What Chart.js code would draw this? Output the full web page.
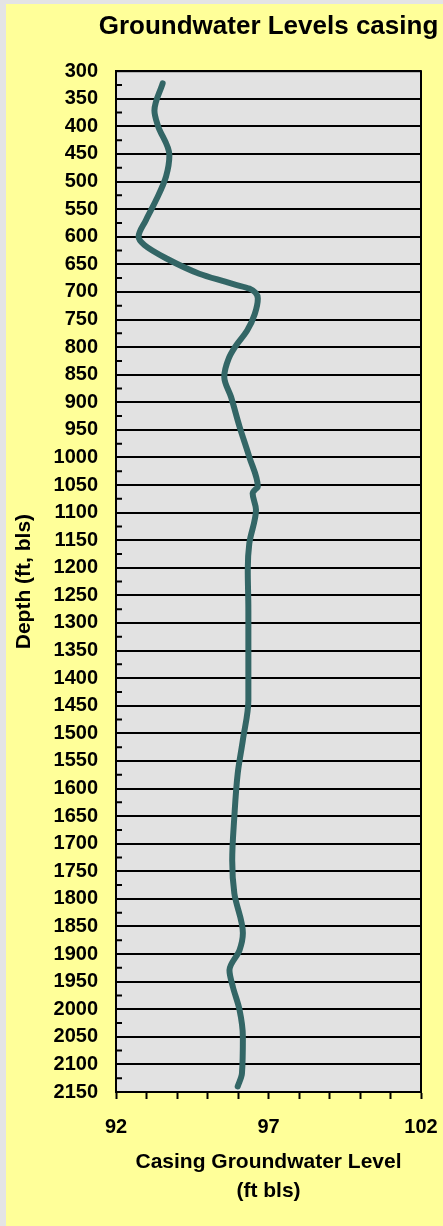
<!DOCTYPE html>
<html lang="en">
<head>
    <meta charset="UTF-8">
    <title>Groundwater Levels casing</title>
    <script src="https://cdn.jsdelivr.net/npm/chart.js@4.4.1/dist/chart.umd.min.js"></script>
    <style>
        html, body {
            margin: 0;
            padding: 0;
            overflow: hidden;
            background-color: #e4e4e4;
        }
        .chart-box {
            position: absolute;
            left: 6px;
            top: 4px;
            width: 525px;
            height: 1222px;
            background-color: #ffff99;
        }
    </style>
</head>
<body>
    <div class="chart-box">
        <canvas id="casingChart" width="525" height="1222"></canvas>
    </div>

    <script>
        // Depth of each reading (ft below land surface)
        const depths = [
            322, 371, 398, 452, 491, 534, 570, 600, 615, 639,
            667, 682, 686, 694, 712, 740, 770, 800, 820, 854,
            890, 944, 999, 1053, 1059, 1065, 1095, 1156, 1204, 1277,
            1440, 1512, 1573, 1651, 1730, 1790, 1862, 1893, 1929, 1959,
            2001, 2050, 2116, 2140
        ];

        // Casing groundwater level at each depth (ft bls)
        const casingLevels = [
            93.53, 93.26, 93.37, 93.75, 93.64, 93.31, 92.98, 92.74, 92.93, 93.64,
            94.73, 95.61, 95.85, 96.37, 96.65, 96.55, 96.30, 95.90, 95.70, 95.55,
            95.77, 96.05, 96.37, 96.65, 96.55, 96.48, 96.59, 96.37, 96.32, 96.34,
            96.34, 96.16, 95.99, 95.88, 95.81, 95.88, 96.16, 96.05, 95.72, 95.83,
            96.05, 96.16, 96.13, 95.99
        ];

        // Axis ranges and labelled ticks
        const depthRange = [300, 2150];
        const levelRange = [92, 102];
        const levelLabels = [92, 97, 102];

        // Gray plot background and black frame round the plot area
        const plotFrame = {
            id: 'plotFrame',
            beforeDraw(chart) {
                const { ctx, chartArea: a } = chart;
                ctx.save();
                ctx.fillStyle = '#e2e2e2';
                ctx.fillRect(a.left, a.top, a.right - a.left, a.bottom - a.top);
                ctx.restore();
            },
            afterDraw(chart) {
                const { ctx, chartArea: a } = chart;
                const y = chart.scales.y;
                ctx.save();
                ctx.strokeStyle = '#000';
                ctx.lineWidth = 2;
                // short marks between the 50 ft grid lines
                ctx.beginPath();
                for (let d = depthRange[0] + 25; d < depthRange[1]; d += 50) {
                    const py = y.getPixelForValue(d);
                    ctx.moveTo(a.left, py);
                    ctx.lineTo(a.left + 6, py);
                }
                ctx.stroke();
                ctx.strokeRect(a.left, a.top, a.right - a.left, a.bottom - a.top);
                ctx.restore();
            }
        };

        const ctx = document.getElementById('casingChart').getContext('2d');
        const boldFont = (size, lineHeight) => ({
            family: '"Liberation Sans", Arial, sans-serif',
            size: size,
            weight: 'bold',
            lineHeight: lineHeight || 1.2
        });

        new Chart(ctx, {
            type: 'line',
            data: {
                datasets: [{
                    label: 'Casing Groundwater Level',
                    data: depths.map((d, i) => ({ x: casingLevels[i], y: d })),
                    borderColor: '#336666',
                    borderWidth: 6,
                    borderCapStyle: 'round',
                    borderJoinStyle: 'round',
                    pointRadius: 0,
                    cubicInterpolationMode: 'monotone',
                    fill: false
                }]
            },
            options: {
                responsive: false,
                animation: false,
                indexAxis: 'y',
                plugins: {
                    legend: { display: false },
                    tooltip: { enabled: false },
                    title: {
                        display: true,
                        text: 'Groundwater Levels casing',
                        color: '#000',
                        font: boldFont(26),
                        padding: { top: 7, bottom: 29 }
                    }
                },
                scales: {
                    y: {
                        type: 'linear',
                        reverse: true,
                        min: depthRange[0],
                        max: depthRange[1],
                        afterFit(scale) { scale.width = 110; },
                        ticks: {
                            stepSize: 50,
                            autoSkip: false,
                            color: '#000',
                            padding: 18,
                            font: boldFont(20),
                            callback: v => String(v)
                        },
                        grid: {
                            color: '#000',
                            lineWidth: 2,
                            drawTicks: false
                        },
                        border: { display: true, color: '#000', width: 2 },
                        title: {
                            display: true,
                            text: 'Depth (ft, bls)',
                            color: '#000',
                            font: boldFont(21),
                            padding: { top: 6, bottom: 0 }
                        }
                    },
                    // empty right-hand strip so the plot sits left of the title centre
                    yRight: {
                        type: 'linear',
                        position: 'right',
                        afterFit(scale) { scale.width = 110; },
                        ticks: { display: false },
                        grid: { display: false },
                        border: { display: false }
                    },
                    x: {
                        type: 'linear',
                        min: levelRange[0],
                        max: levelRange[1],
                        afterFit(scale) { scale.height = 134; },
                        ticks: {
                            stepSize: 1,
                            autoSkip: false,
                            maxRotation: 0,
                            color: '#000',
                            padding: 16,
                            font: boldFont(20),
                            callback: v => levelLabels.includes(v) ? String(v) : ''
                        },
                        grid: {
                            drawOnChartArea: false,
                            drawTicks: true,
                            tickLength: 7,
                            tickWidth: 2,
                            tickColor: '#000'
                        },
                        border: { display: true, color: '#000', width: 2 },
                        title: {
                            display: true,
                            text: ['Casing Groundwater Level', '(ft bls)'],
                            color: '#000',
                            font: boldFont(21, 1.38),
                            padding: { top: 0, bottom: 20 }
                        }
                    }
                }
            },
            plugins: [plotFrame]
        });
    </script>
</body>
</html>
